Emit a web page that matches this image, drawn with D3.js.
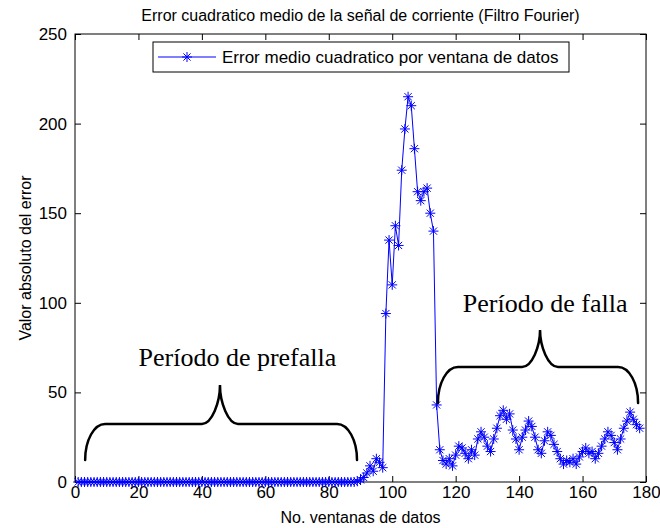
<!DOCTYPE html>
<html>
<head>
<meta charset="utf-8">
<script src="https://cdn.jsdelivr.net/npm/d3@7/dist/d3.min.js"></script>
<style>
  body { margin: 0; background: #fff; }
  svg { display: block; }
  text { font-family: "Liberation Sans", Arial, Helvetica, sans-serif; fill: #000; }
</style>
</head>
<body>
<svg id="chart" width="660" height="528"></svg>
<script>
// Texts
const chartTitle = "Error cuadratico medio de la señal de corriente (Filtro Fourier)";
const xLabel = "No. ventanas de datos";
const yLabel = "Valor absoluto del error";
const legendLabel = "Error medio cuadratico por ventana de datos";

// Axis ticks
const xTicks = [0, 20, 40, 60, 80, 100, 120, 140, 160, 180];
const yTicks = [0, 50, 100, 150, 200, 250];

// Mean squared error per data window (windows numbered from 1)
const firstWindow = 1;
const prefaultError = [
  0, 0, 0, 0, 0, 0, 0, 0, 0, 0, 0, 0, 0, 0, 0, 0, 0, 0, 0, 0, 0, 0,
  0, 0, 0, 0, 0, 0, 0, 0, 0, 0, 0, 0, 0, 0, 0, 0, 0, 0, 0, 0, 0, 0,
  0, 0, 0, 0, 0, 0, 0, 0, 0, 0, 0, 0, 0, 0, 0, 0, 0, 0, 0, 0, 0, 0,
  0, 0, 0, 0, 0, 0, 0, 0, 0, 0, 0, 0, 0, 0, 0, 0, 0, 0, 0, 0, 0, 0
];
const transientError = [
  0.4, 1.2, 2.5, 5, 9, 6, 13, 11, 8,
  94, 135, 110, 143, 132, 174, 197, 215, 210, 186, 162, 157, 162, 164, 150, 140,
  43, 18
];
const faultError = [
  12, 10, 13, 9, 15, 20, 19, 16, 13, 18, 15, 24, 28, 25, 20, 17, 24, 30, 37, 40,
  35, 38, 29, 24, 18, 25, 29, 34, 31, 25, 18, 16, 23, 28, 26, 21, 17, 13, 10, 12,
  11, 13, 10, 14, 17, 19, 16, 17, 13, 16, 20, 24, 28, 26, 22, 18, 24, 30, 34, 39,
  35, 32, 30
];
const errorValues = prefaultError.concat(transientError, faultError);
const series = errorValues.map((v, i) => ({ w: firstWindow + i, v }));

// Brace annotations, in data units
const braces = [
  { label: "Período de prefalla", from: 3.2, to: 88.9, tip: 45.7, base: 12.3, bar: 32.4, peak: 54.1, textX: 51.2, textY: 64.7 },
  { label: "Período de falla", from: 114.4, to: 177.5, tip: 146.6, base: 44.1, bar: 64.2, peak: 84.8, textX: 148.2, textY: 94.9 }
];

const svg = d3.select("#chart");
const plot = { left: 75, top: 34, right: 646, bottom: 482 };

const x = d3.scaleLinear().domain([0, 180]).range([plot.left, plot.right]);
const y = d3.scaleLinear().domain([0, 250]).range([plot.bottom, plot.top]);

const blue = "#0000ff";
const tickLen = 6;

// Axes: ticks point inward on all four sides
function styleAxis(g) {
  g.selectAll(".domain").remove();
  g.selectAll(".tick line").attr("stroke", "#000").attr("stroke-width", 1);
  g.selectAll(".tick text").style("font-size", "17px").attr("fill", "#000");
}

svg.append("g")
  .attr("transform", `translate(0,${plot.bottom})`)
  .call(d3.axisBottom(x).tickValues(xTicks).tickSize(-tickLen).tickPadding(4).tickFormat(d3.format("d")))
  .call(styleAxis);

svg.append("g")
  .attr("transform", `translate(0,${plot.top})`)
  .call(d3.axisTop(x).tickValues(xTicks).tickSize(-tickLen).tickFormat(""))
  .call(styleAxis);

svg.append("g")
  .attr("transform", `translate(${plot.left},0)`)
  .call(d3.axisLeft(y).tickValues(yTicks).tickSize(-tickLen).tickPadding(8).tickFormat(d3.format("d")))
  .call(styleAxis);

svg.append("g")
  .attr("transform", `translate(${plot.right},0)`)
  .call(d3.axisRight(y).tickValues(yTicks).tickSize(-tickLen).tickFormat(""))
  .call(styleAxis);

// Axes box
svg.append("rect")
  .attr("x", plot.left).attr("y", plot.top)
  .attr("width", plot.right - plot.left).attr("height", plot.bottom - plot.top)
  .attr("fill", "none").attr("stroke", "#000").attr("stroke-width", 1);

// Asterisk marker (plus + cross)
const mr = 5, md = mr * 0.72;
const starPath = `M${-mr},0H${mr}M0,${-mr}V${mr}M${-md},${-md}L${md},${md}M${-md},${md}L${md},${-md}`;

// Series line and markers
const line = d3.line().x(d => x(d.w)).y(d => y(d.v));
svg.append("path")
  .datum(series)
  .attr("d", line)
  .attr("fill", "none")
  .attr("stroke", blue)
  .attr("stroke-width", 1);

svg.append("g")
  .selectAll("path")
  .data(series)
  .join("path")
  .attr("transform", d => `translate(${x(d.w)},${y(d.v)})`)
  .attr("d", starPath)
  .attr("fill", "none")
  .attr("stroke", blue)
  .attr("stroke-width", 1);

// Braces with labels
function bracePath(b) {
  const xl = x(b.from), xr = x(b.to), xt = x(b.tip);
  const yb = y(b.base), yh = y(b.bar), yp = y(b.peak);
  const rx = 20, cx = 18, k = 0.552;
  const ry = yb - yh, cy = yh - yp;
  const p = d3.path();
  p.moveTo(xl, yb);
  p.bezierCurveTo(xl, yb - k * ry, xl + rx - k * rx, yh, xl + rx, yh);
  p.lineTo(xt - cx, yh);
  p.bezierCurveTo(xt - cx + k * cx, yh, xt, yh - k * cy, xt, yp);
  p.bezierCurveTo(xt, yh - k * cy, xt + cx - k * cx, yh, xt + cx, yh);
  p.lineTo(xr - rx, yh);
  p.bezierCurveTo(xr - rx + k * rx, yh, xr, yb - k * ry, xr, yb);
  return p.toString();
}

const braceG = svg.append("g");
braceG.selectAll("path")
  .data(braces)
  .join("path")
  .attr("d", bracePath)
  .attr("fill", "none")
  .attr("stroke", "#000")
  .attr("stroke-width", 2.5)
  .attr("stroke-linecap", "round");

braceG.selectAll("text")
  .data(braces)
  .join("text")
  .attr("x", d => x(d.textX))
  .attr("y", d => y(d.textY))
  .attr("text-anchor", "middle")
  .style("font-family", "'Liberation Serif', 'Times New Roman', serif")
  .style("font-size", "26px")
  .text(d => d.label);

// Legend
const legend = { x0: 153, y0: 42, w: 416, h: 30 };
const lg = svg.append("g");
lg.append("rect")
  .attr("x", legend.x0).attr("y", legend.y0)
  .attr("width", legend.w).attr("height", legend.h)
  .attr("fill", "#fff").attr("stroke", "#000").attr("stroke-width", 1);
const ly = legend.y0 + legend.h / 2;
lg.append("line")
  .attr("x1", legend.x0 + 5).attr("x2", legend.x0 + 63)
  .attr("y1", ly).attr("y2", ly)
  .attr("stroke", blue).attr("stroke-width", 1);
lg.append("path")
  .attr("transform", `translate(${legend.x0 + 34},${ly})`)
  .attr("d", starPath)
  .attr("fill", "none").attr("stroke", blue).attr("stroke-width", 1);
lg.append("text")
  .attr("x", legend.x0 + 69).attr("y", ly)
  .attr("dy", "0.35em")
  .style("font-size", "17px")
  .text(legendLabel);

// Title and axis labels
const midX = (plot.left + plot.right) / 2;
svg.append("text")
  .attr("x", midX).attr("y", 21)
  .attr("text-anchor", "middle")
  .style("font-size", "16px")
  .text(chartTitle);

svg.append("text")
  .attr("x", midX).attr("y", 523)
  .attr("text-anchor", "middle")
  .style("font-size", "16px")
  .text(xLabel);

svg.append("text")
  .attr("transform", `translate(31,${(plot.top + plot.bottom) / 2}) rotate(-90)`)
  .attr("text-anchor", "middle")
  .style("font-size", "16px")
  .text(yLabel);
</script>
</body>
</html>
